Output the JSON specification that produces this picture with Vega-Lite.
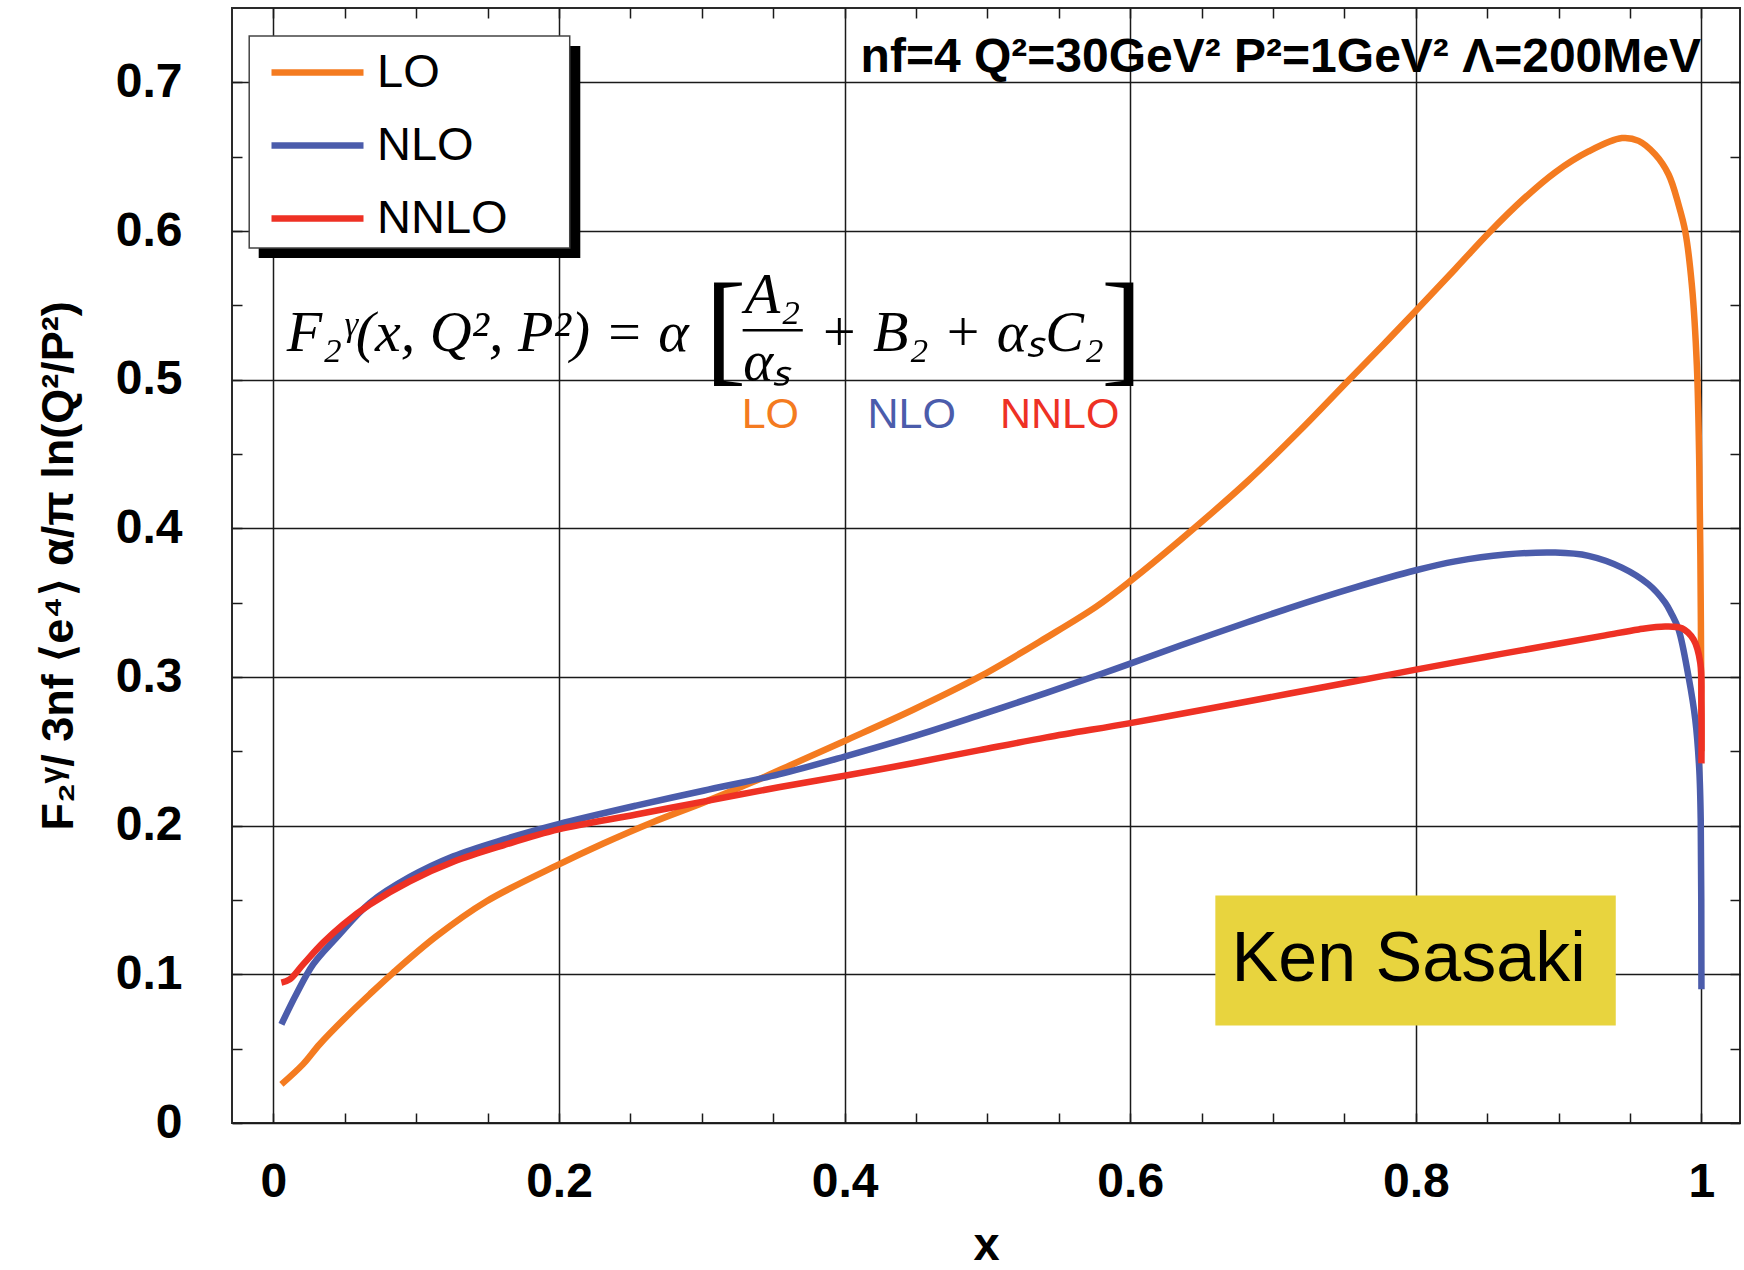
{
  "$schema": "https://vega.github.io/schema/vega-lite/v6.json",
  "width": 1508,
  "height": 1115,
  "autosize": {"type": "none"},
  "padding": {"left": 232, "top": 8, "right": 4, "bottom": 147},
  "background": "white",
  "config": {
    "view": {"stroke": "#2a2a2a", "strokeWidth": 2},
    "font": "Liberation Sans"
  },
  "resolve": {"axis": {"x": "independent", "y": "independent"}},
  "layer": [
    {
      "data": {"values": [{}]},
      "mark": {"type": "rect", "color": "black"},
      "encoding": {
        "x": {"datum": -0.0103, "type": "quantitative", "scale": {"domain": [-0.029, 1.027], "nice": false, "zero": false},
          "axis": {"orient": "top", "values": [0,0.05,0.1,0.15,0.2,0.25,0.3,0.35,0.4,0.45,0.5,0.55,0.6,0.65,0.7,0.75,0.8,0.85,0.9,0.95,1], "labels": false, "grid": false, "domain": false, "ticks": true, "tickSize": -10, "tickColor": "#1a1a1a", "tickWidth": 1.5, "title": null}},
        "x2": {"datum": 0.2149},
        "y": {"datum": 0.7244, "type": "quantitative", "scale": {"domain": [0, 0.75], "nice": false, "zero": false},
          "axis": {"orient": "right", "values": [0,0.05,0.1,0.15,0.2,0.25,0.3,0.35,0.4,0.45,0.5,0.55,0.6,0.65,0.7], "labels": false, "grid": false, "domain": false, "ticks": true, "tickSize": -10, "tickColor": "#1a1a1a", "tickWidth": 1.5, "title": null}},
        "y2": {"datum": 0.5818}
      }
    },
    {
      "data": {"values": [{}]},
      "mark": {"type": "rect", "fill": "white", "stroke": "#444", "strokeWidth": 1.5},
      "encoding": {
        "x": {"datum": -0.01695, "type": "quantitative", "scale": {"domain": [-0.029, 1.027], "nice": false, "zero": false}, "axis": null},
        "x2": {"datum": 0.2075},
        "y": {"datum": 0.7312, "type": "quantitative", "scale": {"domain": [0, 0.75], "nice": false, "zero": false}, "axis": null},
        "y2": {"datum": 0.5886}
      }
    },
    {
      "data": {"values": [{}]},
      "mark": {"type": "rect", "fill": "#e8d43e"},
      "encoding": {
        "x": {"datum": 0.6596, "type": "quantitative", "scale": {"domain": [-0.029, 1.027], "nice": false, "zero": false}, "axis": null},
        "x2": {"datum": 0.94},
        "y": {"datum": 0.1531, "type": "quantitative", "scale": {"domain": [0, 0.75], "nice": false, "zero": false}, "axis": null},
        "y2": {"datum": 0.0656}
      }
    },
    {
      "data": {"values": [{}]},
      "mark": {"type": "text", "text": "Ken Sasaki", "align": "left", "baseline": "middle", "font": "Liberation Sans", "fontSize": 70, "color": "black"},
      "encoding": {
        "x": {"datum": 0.671, "type": "quantitative", "scale": {"domain": [-0.029, 1.027], "nice": false, "zero": false}, "axis": null},
        "y": {"datum": 0.1097, "type": "quantitative", "scale": {"domain": [0, 0.75], "nice": false, "zero": false}, "axis": null}
      }
    },
    {
      "data": {"values": [
        {"s":"LO","i":0,"x":0.0056,"y":0.026},
        {"s":"LO","i":1,"x":0.0208,"y":0.0396},
        {"s":"LO","i":2,"x":0.0324,"y":0.053},
        {"s":"LO","i":3,"x":0.0511,"y":0.0715},
        {"s":"LO","i":4,"x":0.0675,"y":0.0866},
        {"s":"LO","i":5,"x":0.0838,"y":0.1010},
        {"s":"LO","i":6,"x":0.114,"y":0.1255},
        {"s":"LO","i":7,"x":0.149,"y":0.149},
        {"s":"LO","i":8,"x":0.1996,"y":0.1738},
        {"s":"LO","i":9,"x":0.231,"y":0.188},
        {"s":"LO","i":10,"x":0.266,"y":0.2025},
        {"s":"LO","i":11,"x":0.301,"y":0.2155},
        {"s":"LO","i":12,"x":0.336,"y":0.2295},
        {"s":"LO","i":13,"x":0.3616,"y":0.2405},
        {"s":"LO","i":14,"x":0.4,"y":0.257},
        {"s":"LO","i":15,"x":0.4476,"y":0.2778},
        {"s":"LO","i":16,"x":0.4945,"y":0.3002},
        {"s":"LO","i":17,"x":0.5413,"y":0.3265},
        {"s":"LO","i":18,"x":0.5765,"y":0.3475},
        {"s":"LO","i":19,"x":0.6,"y":0.3645},
        {"s":"LO","i":20,"x":0.6351,"y":0.3922},
        {"s":"LO","i":21,"x":0.682,"y":0.4315},
        {"s":"LO","i":22,"x":0.7195,"y":0.4665},
        {"s":"LO","i":23,"x":0.7528,"y":0.4995},
        {"s":"LO","i":24,"x":0.7762,"y":0.5225},
        {"s":"LO","i":25,"x":0.8,"y":0.5464},
        {"s":"LO","i":26,"x":0.8276,"y":0.5745},
        {"s":"LO","i":27,"x":0.8509,"y":0.5985},
        {"s":"LO","i":28,"x":0.8742,"y":0.6205},
        {"s":"LO","i":29,"x":0.8976,"y":0.6395},
        {"s":"LO","i":30,"x":0.9209,"y":0.6535},
        {"s":"LO","i":31,"x":0.9443,"y":0.6625},
        {"s":"LO","i":32,"x":0.956,"y":0.6606},
        {"s":"LO","i":33,"x":0.9676,"y":0.6515},
        {"s":"LO","i":34,"x":0.977,"y":0.638},
        {"s":"LO","i":35,"x":0.984,"y":0.6176},
        {"s":"LO","i":36,"x":0.9887,"y":0.5995},
        {"s":"LO","i":37,"x":0.9933,"y":0.5634},
        {"s":"LO","i":38,"x":0.9968,"y":0.5092},
        {"s":"LO","i":39,"x":0.9985,"y":0.4414},
        {"s":"LO","i":40,"x":0.9996,"y":0.3374},
        {"s":"LO","i":41,"x":1.0,"y":0.25},
        {"s":"NLO","i":0,"x":0.0056,"y":0.0664},
        {"s":"NLO","i":1,"x":0.016,"y":0.0866},
        {"s":"NLO","i":2,"x":0.0278,"y":0.1067},
        {"s":"NLO","i":3,"x":0.0441,"y":0.1246},
        {"s":"NLO","i":4,"x":0.0675,"y":0.148},
        {"s":"NLO","i":5,"x":0.0955,"y":0.1655},
        {"s":"NLO","i":6,"x":0.126,"y":0.1794},
        {"s":"NLO","i":7,"x":0.161,"y":0.1906},
        {"s":"NLO","i":8,"x":0.1996,"y":0.201},
        {"s":"NLO","i":9,"x":0.254,"y":0.2135},
        {"s":"NLO","i":10,"x":0.301,"y":0.2235},
        {"s":"NLO","i":11,"x":0.3538,"y":0.2345},
        {"s":"NLO","i":12,"x":0.4,"y":0.2465},
        {"s":"NLO","i":13,"x":0.4476,"y":0.2599},
        {"s":"NLO","i":14,"x":0.4945,"y":0.2744},
        {"s":"NLO","i":15,"x":0.5413,"y":0.2893},
        {"s":"NLO","i":16,"x":0.5765,"y":0.3010},
        {"s":"NLO","i":17,"x":0.6,"y":0.3090},
        {"s":"NLO","i":18,"x":0.6351,"y":0.3212},
        {"s":"NLO","i":19,"x":0.682,"y":0.3368},
        {"s":"NLO","i":20,"x":0.7108,"y":0.3462},
        {"s":"NLO","i":21,"x":0.7575,"y":0.3603},
        {"s":"NLO","i":22,"x":0.8,"y":0.3718},
        {"s":"NLO","i":23,"x":0.8276,"y":0.3778},
        {"s":"NLO","i":24,"x":0.8626,"y":0.3824},
        {"s":"NLO","i":25,"x":0.8976,"y":0.3837},
        {"s":"NLO","i":26,"x":0.9209,"y":0.3815},
        {"s":"NLO","i":27,"x":0.9443,"y":0.3736},
        {"s":"NLO","i":28,"x":0.963,"y":0.3623},
        {"s":"NLO","i":29,"x":0.9746,"y":0.35},
        {"s":"NLO","i":30,"x":0.9793,"y":0.342},
        {"s":"NLO","i":31,"x":0.984,"y":0.332},
        {"s":"NLO","i":32,"x":0.991,"y":0.3},
        {"s":"NLO","i":33,"x":0.9957,"y":0.2712},
        {"s":"NLO","i":34,"x":0.9985,"y":0.2374},
        {"s":"NLO","i":35,"x":0.9995,"y":0.2036},
        {"s":"NLO","i":36,"x":1.0,"y":0.09},
        {"s":"NNLO","i":0,"x":0.0056,"y":0.0944},
        {"s":"NNLO","i":1,"x":0.0114,"y":0.0966},
        {"s":"NNLO","i":2,"x":0.0208,"y":0.1067},
        {"s":"NNLO","i":3,"x":0.0348,"y":0.1213},
        {"s":"NNLO","i":4,"x":0.0488,"y":0.1336},
        {"s":"NNLO","i":5,"x":0.0675,"y":0.147},
        {"s":"NNLO","i":6,"x":0.0955,"y":0.1626},
        {"s":"NNLO","i":7,"x":0.126,"y":0.1757},
        {"s":"NNLO","i":8,"x":0.161,"y":0.1868},
        {"s":"NNLO","i":9,"x":0.1996,"y":0.1975},
        {"s":"NNLO","i":10,"x":0.254,"y":0.2075},
        {"s":"NNLO","i":11,"x":0.301,"y":0.2162},
        {"s":"NNLO","i":12,"x":0.3538,"y":0.2258},
        {"s":"NNLO","i":13,"x":0.4,"y":0.2336},
        {"s":"NNLO","i":14,"x":0.4476,"y":0.2420},
        {"s":"NNLO","i":15,"x":0.4945,"y":0.2508},
        {"s":"NNLO","i":16,"x":0.5413,"y":0.2594},
        {"s":"NNLO","i":17,"x":0.6,"y":0.2690},
        {"s":"NNLO","i":18,"x":0.6586,"y":0.2793},
        {"s":"NNLO","i":19,"x":0.7108,"y":0.2887},
        {"s":"NNLO","i":20,"x":0.7575,"y":0.2971},
        {"s":"NNLO","i":21,"x":0.8,"y":0.3050},
        {"s":"NNLO","i":22,"x":0.8509,"y":0.3140},
        {"s":"NNLO","i":23,"x":0.8976,"y":0.3220},
        {"s":"NNLO","i":24,"x":0.9326,"y":0.3280},
        {"s":"NNLO","i":25,"x":0.956,"y":0.3320},
        {"s":"NNLO","i":26,"x":0.9746,"y":0.3340},
        {"s":"NNLO","i":27,"x":0.9863,"y":0.3328},
        {"s":"NNLO","i":28,"x":0.9945,"y":0.3252},
        {"s":"NNLO","i":29,"x":0.9992,"y":0.3095},
        {"s":"NNLO","i":30,"x":1.0,"y":0.2824},
        {"s":"NNLO","i":31,"x":1.0,"y":0.2419}
      ]},
      "mark": {"type": "line", "strokeWidth": 6.5, "interpolate": "catmull-rom", "strokeCap": "butt", "strokeJoin": "round"},
      "encoding": {
        "x": {"field": "x", "type": "quantitative", "scale": {"domain": [-0.029, 1.027], "nice": false, "zero": false},
          "axis": {"orient": "bottom", "values": [0,0.05,0.1,0.15,0.2,0.25,0.3,0.35,0.4,0.45,0.5,0.55,0.6,0.65,0.7,0.75,0.8,0.85,0.9,0.95,1],
            "labelExpr": "abs(datum.value*5-round(datum.value*5))<0.001 ? format(datum.value,'.1~f') : ''",
            "grid": true, "gridColor": "#1a1a1a", "gridWidth": 1.5,
            "gridOpacity": {"condition": {"test": "abs(datum.value*5-round(datum.value*5))<0.001", "value": 1}, "value": 0},
            "ticks": true, "tickSize": -10, "tickColor": "#1a1a1a", "tickWidth": 1.5, "domain": false,
            "labelFont": "Liberation Sans", "labelFontWeight": "bold", "labelFontSize": 48, "labelColor": "black", "labelPadding": 45, "labelFlush": false, "labelOverlap": false,
            "title": "x", "titleFont": "Liberation Sans", "titleFontWeight": "bold", "titleFontSize": 47, "titleColor": "black", "titlePadding": 16}},
        "y": {"field": "y", "type": "quantitative", "scale": {"domain": [0, 0.75], "nice": false, "zero": false},
          "axis": {"orient": "left", "values": [0,0.05,0.1,0.15,0.2,0.25,0.3,0.35,0.4,0.45,0.5,0.55,0.6,0.65,0.7],
            "labelExpr": "abs(datum.value*10-round(datum.value*10))<0.001 ? format(datum.value,'.1~f') : ''",
            "grid": true, "gridColor": "#1a1a1a", "gridWidth": 1.5,
            "gridOpacity": {"condition": {"test": "abs(datum.value*10-round(datum.value*10))<0.001", "value": 1}, "value": 0},
            "ticks": true, "tickSize": -10, "tickColor": "#1a1a1a", "tickWidth": 1.5, "domain": false,
            "labelFont": "Liberation Sans", "labelFontWeight": "bold", "labelFontSize": 48, "labelColor": "black", "labelPadding": 60, "labelFlush": false, "labelOverlap": false,
            "title": "F₂ᵞ/ 3nf ⟨e⁴⟩ α/π ln(Q²/P²)", "titleFont": "Liberation Sans", "titleFontWeight": "bold", "titleFontSize": 45, "titleColor": "black", "titlePadding": 34}},
        "color": {"field": "s", "type": "nominal",
          "scale": {"domain": ["LO", "NLO", "NNLO"], "range": ["#f47b20", "#4b5cab", "#ee3124"]},
          "legend": {"orient": "none", "legendX": 36, "legendY": 15, "title": null, "symbolType": "stroke", "symbolSize": 8464, "symbolStrokeWidth": 6.5,
            "labelFont": "Liberation Sans", "labelFontSize": 47, "labelColor": "black", "labelOffset": 10, "rowPadding": -1, "padding": 0}},
        "order": {"field": "i", "type": "quantitative"}
      }
    },
    {
      "data": {"values": [{}]},
      "mark": {"type": "text", "text": "F₂ᵞ(x, Q², P²) = α", "align": "left", "baseline": "middle", "font": "Liberation Serif", "fontStyle": "italic", "fontSize": 58, "color": "black"},
      "encoding": {
        "x": {"datum": 0.0093, "type": "quantitative", "scale": {"domain": [-0.029, 1.027], "nice": false, "zero": false}, "axis": null},
        "y": {"datum": 0.531, "type": "quantitative", "scale": {"domain": [0, 0.75], "nice": false, "zero": false}, "axis": null}
      }
    },
    {
      "data": {"values": [{}]},
      "mark": {"type": "text", "text": "[", "align": "left", "baseline": "middle", "font": "Liberation Serif", "fontSize": 125, "color": "black"},
      "encoding": {
        "x": {"datum": 0.302, "type": "quantitative", "scale": {"domain": [-0.029, 1.027], "nice": false, "zero": false}, "axis": null},
        "y": {"datum": 0.5327, "type": "quantitative", "scale": {"domain": [0, 0.75], "nice": false, "zero": false}, "axis": null}
      }
    },
    {
      "data": {"values": [{}]},
      "mark": {"type": "text", "text": "A₂", "align": "center", "baseline": "middle", "font": "Liberation Serif", "fontStyle": "italic", "fontSize": 58, "color": "black"},
      "encoding": {
        "x": {"datum": 0.3496, "type": "quantitative", "scale": {"domain": [-0.029, 1.027], "nice": false, "zero": false}, "axis": null},
        "y": {"datum": 0.556, "type": "quantitative", "scale": {"domain": [0, 0.75], "nice": false, "zero": false}, "axis": null}
      }
    },
    {
      "data": {"values": [{}]},
      "mark": {"type": "rule", "color": "black", "strokeWidth": 2.5},
      "encoding": {
        "x": {"datum": 0.3286, "type": "quantitative", "scale": {"domain": [-0.029, 1.027], "nice": false, "zero": false}, "axis": null},
        "x2": {"datum": 0.3707},
        "y": {"datum": 0.5332, "type": "quantitative", "scale": {"domain": [0, 0.75], "nice": false, "zero": false}, "axis": null}
      }
    },
    {
      "data": {"values": [{}]},
      "mark": {"type": "text", "text": "αₛ", "align": "center", "baseline": "middle", "font": "Liberation Serif", "fontStyle": "italic", "fontSize": 57, "color": "black"},
      "encoding": {
        "x": {"datum": 0.3457, "type": "quantitative", "scale": {"domain": [-0.029, 1.027], "nice": false, "zero": false}, "axis": null},
        "y": {"datum": 0.5115, "type": "quantitative", "scale": {"domain": [0, 0.75], "nice": false, "zero": false}, "axis": null}
      }
    },
    {
      "data": {"values": [{}]},
      "mark": {"type": "text", "text": "+ B₂ + αₛC₂", "align": "left", "baseline": "middle", "font": "Liberation Serif", "fontStyle": "italic", "fontSize": 58, "color": "black"},
      "encoding": {
        "x": {"datum": 0.3823, "type": "quantitative", "scale": {"domain": [-0.029, 1.027], "nice": false, "zero": false}, "axis": null},
        "y": {"datum": 0.531, "type": "quantitative", "scale": {"domain": [0, 0.75], "nice": false, "zero": false}, "axis": null}
      }
    },
    {
      "data": {"values": [{}]},
      "mark": {"type": "text", "text": "]", "align": "left", "baseline": "middle", "font": "Liberation Serif", "fontSize": 125, "color": "black"},
      "encoding": {
        "x": {"datum": 0.5795, "type": "quantitative", "scale": {"domain": [-0.029, 1.027], "nice": false, "zero": false}, "axis": null},
        "y": {"datum": 0.5327, "type": "quantitative", "scale": {"domain": [0, 0.75], "nice": false, "zero": false}, "axis": null}
      }
    },
    {
      "data": {"values": [{}]},
      "mark": {"type": "text", "text": "LO", "align": "center", "baseline": "middle", "font": "Liberation Sans", "fontSize": 43, "color": "#f47b20"},
      "encoding": {
        "x": {"datum": 0.348, "type": "quantitative", "scale": {"domain": [-0.029, 1.027], "nice": false, "zero": false}, "axis": null},
        "y": {"datum": 0.476, "type": "quantitative", "scale": {"domain": [0, 0.75], "nice": false, "zero": false}, "axis": null}
      }
    },
    {
      "data": {"values": [{}]},
      "mark": {"type": "text", "text": "NLO", "align": "center", "baseline": "middle", "font": "Liberation Sans", "fontSize": 43, "color": "#4b5cab"},
      "encoding": {
        "x": {"datum": 0.447, "type": "quantitative", "scale": {"domain": [-0.029, 1.027], "nice": false, "zero": false}, "axis": null},
        "y": {"datum": 0.476, "type": "quantitative", "scale": {"domain": [0, 0.75], "nice": false, "zero": false}, "axis": null}
      }
    },
    {
      "data": {"values": [{}]},
      "mark": {"type": "text", "text": "NNLO", "align": "center", "baseline": "middle", "font": "Liberation Sans", "fontSize": 43, "color": "#ee3124"},
      "encoding": {
        "x": {"datum": 0.5506, "type": "quantitative", "scale": {"domain": [-0.029, 1.027], "nice": false, "zero": false}, "axis": null},
        "y": {"datum": 0.476, "type": "quantitative", "scale": {"domain": [0, 0.75], "nice": false, "zero": false}, "axis": null}
      }
    },
    {
      "data": {"values": [{}]},
      "mark": {"type": "text", "text": "nf=4 Q²=30GeV² P²=1GeV² Λ=200MeV", "align": "right", "baseline": "middle", "font": "Liberation Sans", "fontWeight": "bold", "fontSize": 48, "color": "black"},
      "encoding": {
        "x": {"datum": 0.9997, "type": "quantitative", "scale": {"domain": [-0.029, 1.027], "nice": false, "zero": false}, "axis": null},
        "y": {"datum": 0.7165, "type": "quantitative", "scale": {"domain": [0, 0.75], "nice": false, "zero": false}, "axis": null}
      }
    }
  ]
}
